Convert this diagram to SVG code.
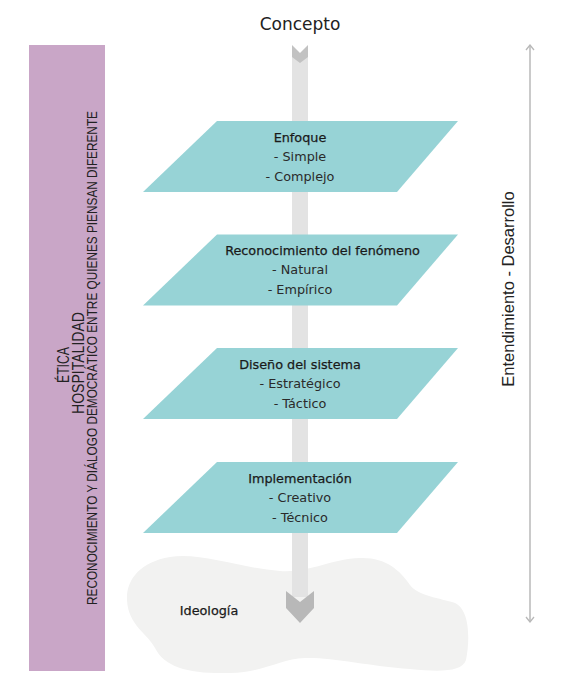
<svg xmlns="http://www.w3.org/2000/svg" width="565" height="695" viewBox="0 0 565 695">
<defs>
<style>
.t{font-family:"DejaVu Sans","Liberation Sans",sans-serif;font-size:12.8px;fill:#2a2a2a;text-anchor:middle}
.h{fill:#1a1a1a;stroke:#1a1a1a;stroke-width:0.25}
.plane{fill:#97d3d6}
.v{font-family:"Liberation Sans",Arial,sans-serif;fill:#222;text-anchor:middle}
</style>
<marker id="ah" viewBox="0 0 10 10" refX="9" refY="5" markerWidth="10" markerHeight="10" orient="auto-start-reverse" markerUnits="userSpaceOnUse">
<path d="M4,1 L9,5 L4,9" fill="none" stroke="#b8b8b8" stroke-width="1.3"/>
</marker>
</defs>
<rect width="565" height="695" fill="#ffffff"/>

<g id="etica-bar">
<rect x="29" y="45" width="76" height="626" fill="#c9a6c7"/>
<text class="v" transform="translate(69,365) rotate(-90)" font-size="16" textLength="36" lengthAdjust="spacingAndGlyphs">ÉTICA</text>
<text class="v" transform="translate(84,363) rotate(-90)" font-size="16" textLength="102" lengthAdjust="spacingAndGlyphs">HOSPITALIDAD</text>
<text class="v" transform="translate(96.5,358) rotate(-90)" font-size="14" textLength="494" lengthAdjust="spacingAndGlyphs">RECONOCIMIENTO Y DIÁLOGO DEMOCRÁTICO ENTRE QUIENES PIENSAN DIFERENTE</text>
</g>

<g id="ideologia">
<path d="M127,600 C126,580 140,562 170,557 C200,552 240,568 280,571 C310,573 330,559 360,558 C385,557 400,570 410,585 C418,596 440,598 455,603 C470,610 470,640 466,660 C462,672 440,672 410,669 C370,666 330,657 305,658 C280,659 265,672 230,673 C190,674 165,668 155,648 C148,634 128,625 127,600 Z" fill="#f2f2f1"/>
<text class="t h" x="209" y="615">Ideología</text>
</g>

<g id="connectors">
<rect x="292" y="57" width="16" height="540" fill="#e3e3e3"/>
<polygon points="292,45 300,53 308,45 308,57 300,63 292,57" fill="#c2c2c2"/>
<polygon points="286,591 300,602 314,591 314,608 300,623 286,608" fill="#b8b8b8"/>
<line x1="530" y1="45" x2="530" y2="622" stroke="#b8b8b8" stroke-width="1.5" marker-start="url(#ah)" marker-end="url(#ah)"/>
</g>

<g id="concepto">
<text x="300" y="30" font-family="DejaVu Sans, sans-serif" font-size="17" fill="#222" text-anchor="middle">Concepto</text>
</g>

<g id="eje-label">
<text class="v" transform="translate(514,289) rotate(-90)" font-size="16.5">Entendimiento - Desarrollo</text>
</g>

<g id="enfoque">
<polygon class="plane" points="217,121 458,121 397,192 143,192"/>
<text class="t h" x="300" y="142">Enfoque</text>
<text class="t" x="300" y="161">- Simple</text>
<text class="t" x="300" y="181">- Complejo</text>
</g>

<g id="reconocimiento">
<polygon class="plane" points="217,234.5 458,234.5 397,305.5 143,305.5"/>
<text class="t h" x="322.5" y="255">Reconocimiento del fenómeno</text>
<text class="t" x="300" y="274">- Natural</text>
<text class="t" x="300" y="294">- Empírico</text>
</g>

<g id="diseno">
<polygon class="plane" points="217,348 458,348 397,419 143,419"/>
<text class="t h" x="300" y="369">Diseño del sistema</text>
<text class="t" x="300" y="388">- Estratégico</text>
<text class="t" x="300" y="408">- Táctico</text>
</g>

<g id="implementacion">
<polygon class="plane" points="217,462 458,462 397,533 143,533"/>
<text class="t h" x="300" y="483">Implementación</text>
<text class="t" x="300" y="502">- Creativo</text>
<text class="t" x="300" y="522">- Técnico</text>
</g>
</svg>
